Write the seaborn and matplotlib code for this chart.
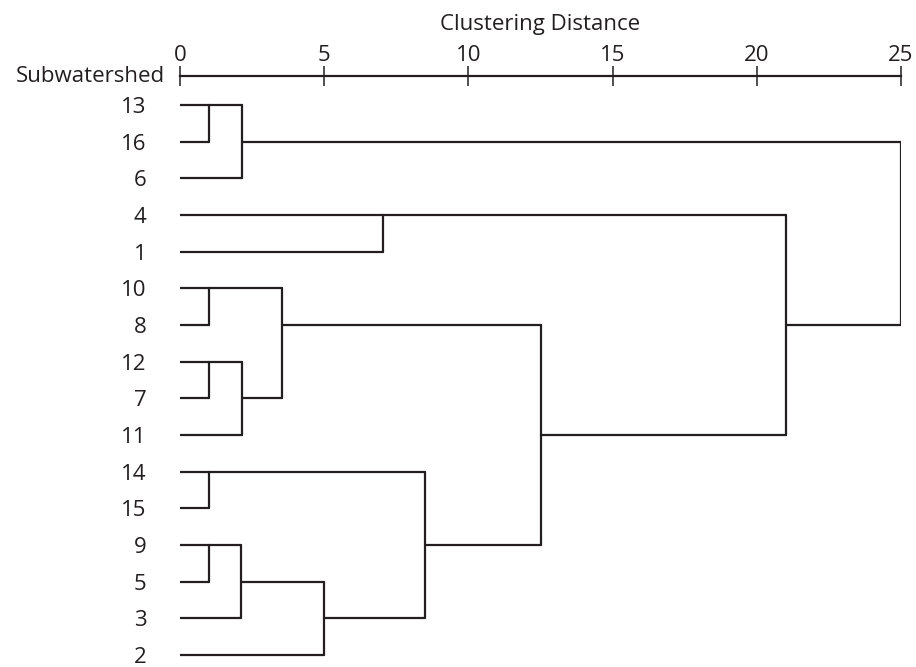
import matplotlib
matplotlib.use("Agg")
import matplotlib.pyplot as plt
import seaborn as sns
import numpy as np

# ---- data ----
leaf_labels = ["13", "16", "6", "4", "1", "10", "8", "12", "7", "11",
               "14", "15", "9", "5", "3", "2"]
# merges: node ids 0..15 are leaves (in display order), new nodes numbered from 16
merge_left = [0, 16, 3, 5, 7, 20, 19, 10, 12, 24, 25, 23, 22, 18, 17]
merge_right = [1, 2, 4, 6, 8, 9, 21, 11, 13, 14, 15, 26, 27, 28, 29]
merge_height = [1.0, 2.15, 7.05, 1.0, 1.0, 2.15, 3.55, 1.0, 1.0, 2.1, 5.0,
                8.5, 12.5, 21.0, 25.0]
x_ticks = [0, 5, 10, 15, 20, 25]

sns.set_theme(style="white")
plt.rcParams['font.family'] = ['Open Sans', 'DejaVu Sans']
INK = "#231f20"
FS = 16

W, H = 916, 667
fig = plt.figure(figsize=(W / 100, H / 100), dpi=100)
ax_l, ax_r = 180, 901
ax_t, ax_b = 76, 665
ax = fig.add_axes([ax_l / W, 1 - ax_b / H, (ax_r - ax_l) / W, (ax_b - ax_t) / H])

n = len(leaf_labels)
row = {i: i for i in range(n)}
height = {i: 0.0 for i in range(n)}
parent_h = {}
for k, (a, b, h) in enumerate(zip(merge_left, merge_right, merge_height)):
    node = n + k
    height[node] = h
    row[node] = (row[a] + row[b]) // 2
    parent_h[a] = h
    parent_h[b] = h

lw = 1.6
# horizontal segments
for node, ph in parent_h.items():
    sns.lineplot(x=[height[node], ph], y=[row[node], row[node]], ax=ax,
                 color=INK, lw=lw, sort=False, estimator=None)
# vertical segments
for a, b, h in zip(merge_left, merge_right, merge_height):
    sns.lineplot(x=[h, h], y=[row[a], row[b]], ax=ax, color=INK, lw=lw,
                 sort=False, estimator=None, orient="y")

ax.set_xlim(0, 25)
ax.set_ylim(15.27, -0.79)
for s in ["left", "right", "bottom"]:
    ax.spines[s].set_visible(False)
ax.spines["top"].set_color(INK)
ax.spines["top"].set_linewidth(1.6)
ax.xaxis.tick_top()
ax.xaxis.set_label_position("top")
ax.set_xticks(x_ticks)
ax.set_xticklabels([str(t) for t in x_ticks], fontsize=FS, color=INK)
ax.tick_params(axis="x", direction="inout", length=14, width=1.1, color=INK,
               pad=0, top=True, bottom=False)
ax.set_xlabel("Clustering Distance", fontsize=FS, color=INK, labelpad=11)
ax.set_yticks(range(n))
ax.set_yticklabels(leaf_labels, fontsize=FS, color=INK)
ax.tick_params(axis="y", length=0, pad=24)
ax.set_ylabel("")
fig.text(165 / W, 1 - 76 / H, "Subwatershed", ha="right", va="center",
         fontsize=FS, color=INK)

fig.savefig("out.png", dpi=100)
